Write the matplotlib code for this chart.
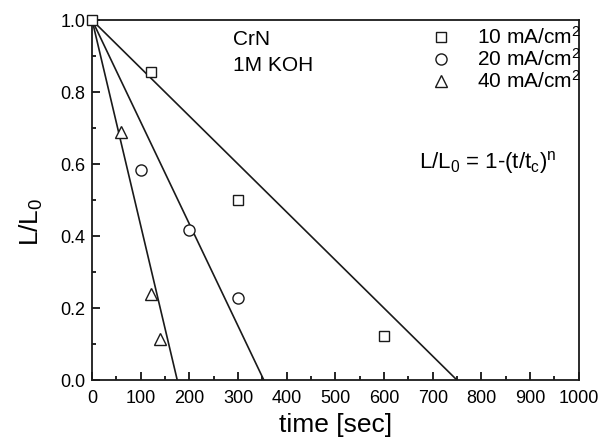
import matplotlib
matplotlib.use('Agg')
import matplotlib.pyplot as plt

plt.rcParams['font.family'] = ['Liberation Sans', 'DejaVu Sans']
plt.rcParams['mathtext.fontset'] = 'custom'
plt.rcParams['mathtext.rm'] = 'Liberation Sans'
plt.rcParams['mathtext.it'] = 'Liberation Sans'

# measured points
t_10 = [0, 120, 300, 600]
L_10 = [1.0, 0.855, 0.50, 0.124]
t_20 = [100, 200, 300]
L_20 = [0.584, 0.416, 0.229]
t_40 = [60, 120, 140]
L_40 = [0.69, 0.238, 0.114]

# fitted lines: t_c for each current density
tc_vals = [750, 353, 175]
labels = ['10 mA/cm$^2$', '20 mA/cm$^2$', '40 mA/cm$^2$']

fig = plt.figure(figsize=(6.06, 4.38), dpi=100)
ax = fig.add_axes([0.152, 0.132, 0.803, 0.822])

for tc in tc_vals:
    ax.plot([0, tc], [1.0, 0.0], color='#1a1a1a', lw=1.2)

ms = 7.5
ax.plot(t_10, L_10, 's', mfc='white', mec='#1a1a1a', mew=1.0, ms=ms, label=labels[0],
        clip_on=False, zorder=5)
ax.plot(t_20, L_20, 'o', mfc='white', mec='#1a1a1a', mew=1.0, ms=ms + 0.5, label=labels[1])
ax.plot(t_40, L_40, '^', mfc='white', mec='#1a1a1a', mew=1.0, ms=ms + 1.5, label=labels[2])

ax.set_xlim(0, 1000)
ax.set_ylim(0, 1.0)
ax.set_xticks(range(0, 1001, 100))
ax.set_xticks(range(50, 1000, 100), minor=True)
ax.set_yticks([0.0, 0.2, 0.4, 0.6, 0.8, 1.0])
ax.set_yticks([0.1, 0.3, 0.5, 0.7, 0.9], minor=True)
ax.set_yticklabels(['0.0', '0.2', '0.4', '0.6', '0.8', '1.0'])
ax.tick_params(which='both', direction='in', top=False, right=False, labelsize=13)
ax.tick_params(axis='x', pad=7)
ax.tick_params(axis='y', pad=5)
ax.tick_params(which='major', length=5.5, width=1.2)
ax.tick_params(which='minor', length=3, width=1.2)
for s in ax.spines.values():
    s.set_linewidth(1.3)
    s.set_color('#1a1a1a')

ax.set_xlabel('time [sec]', fontsize=19)
ax.xaxis.set_label_coords(0.5, -0.092)
ax.set_ylabel('L/L$_0$', fontsize=19)
ax.yaxis.set_label_coords(-0.097, 0.44)

ax.text(0.29, 0.947, 'CrN', transform=ax.transAxes, fontsize=15, va='center')
ax.text(0.29, 0.875, '1M KOH', transform=ax.transAxes, fontsize=15, va='center')
ax.text(0.672, 0.605, 'L/L$_0$ = 1-(t/t$_c$)$^n$', transform=ax.transAxes, fontsize=16, va='center')

ax.legend(loc='upper right', bbox_to_anchor=(1.012, 0.995), frameon=False, fontsize=15,
          handlelength=0.8, handletextpad=1.3, labelspacing=0.0, borderaxespad=0.0,
          borderpad=0.2)

fig.savefig('out.png', dpi=100)
